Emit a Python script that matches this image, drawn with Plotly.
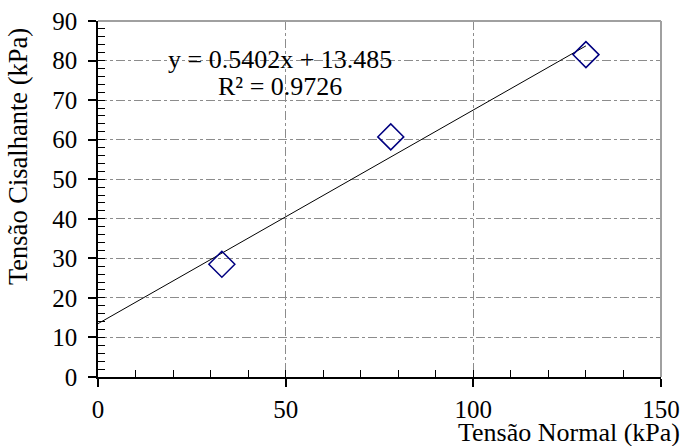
import plotly.graph_objects as go

# Data
normal_stress = [33, 78, 130]          # Tensão Normal (kPa)
shear_stress = [28.5, 60.7, 81.5]      # Tensão Cisalhante (kPa)
slope = 0.5402
intercept = 13.485
r2 = 0.9726
trend_x = [0, 130]
trend_y = [slope * v + intercept for v in trend_x]

x_ticks = [0, 50, 100, 150]
y_ticks = [0, 10, 20, 30, 40, 50, 60, 70, 80, 90]

FONT = "Liberation Serif, Times New Roman, serif"
FS = 25
FT = 26

fig = go.Figure()
fig.add_trace(go.Scatter(x=trend_x, y=trend_y, mode="lines",
                         line=dict(color="black", width=1), showlegend=False,
                         hoverinfo="skip"))
fig.add_trace(go.Scatter(x=normal_stress, y=shear_stress, mode="markers",
                         marker=dict(symbol="diamond-open", size=20,
                                     color="#000080", line=dict(width=1.5, color="#000080")),
                         showlegend=False))

grid = dict(showgrid=True, gridcolor="#8c8c8c", gridwidth=1, griddash="dashdot")

fig.update_layout(
    width=689, height=446,
    margin=dict(l=98, r=28, t=21, b=69, autoexpand=False),
    paper_bgcolor="white", plot_bgcolor="white",
    font=dict(family=FONT, size=FS, color="black"),
    xaxis=dict(range=[0, 150], tickvals=x_ticks, ticktext=[str(v) for v in x_ticks],
               ticks="outside", ticklen=8, tickwidth=1.5, tickcolor="black",
               showline=True, linecolor="black", linewidth=1.5, automargin=False,
               zeroline=False, ticklabelstandoff=1,
               tickfont=dict(family=FONT, size=FS), **grid),
    yaxis=dict(range=[0, 90], tickvals=y_ticks, ticktext=[str(v) for v in y_ticks],
               ticks="outside", ticklen=8, tickwidth=1.5, tickcolor="black",
               showline=True, linecolor="black", linewidth=1.5, automargin=False,
               zeroline=False, ticklabelstandoff=6,
               tickfont=dict(family=FONT, size=FS), **grid),
    xaxis2=dict(overlaying="x", anchor="y", range=[0, 150], dtick=10, tick0=0,
                ticks="inside", ticklen=7, tickwidth=1.2, tickcolor="black", automargin=False,
                showticklabels=False, showgrid=False, zeroline=False, showline=False),
    yaxis2=dict(overlaying="y", anchor="x", range=[0, 90], dtick=2, tick0=0,
                ticks="inside", ticklen=7, tickwidth=1.2, tickcolor="black", automargin=False,
                showticklabels=False, showgrid=False, zeroline=False, showline=False),
)

# top/right gray frame
fig.add_shape(type="line", xref="paper", yref="paper", x0=0, x1=1, y0=1, y1=1,
              line=dict(color="#a0a0a0", width=2))
fig.add_shape(type="line", xref="paper", yref="paper", x0=1, x1=1, y0=0, y1=1,
              line=dict(color="#a0a0a0", width=2))

# axis titles
fig.add_annotation(text="Tensão Normal (kPa)", xref="paper", yref="paper",
                   x=1.037, y=-0.155, xanchor="right", yanchor="middle",
                   showarrow=False, font=dict(family=FONT, size=FT))
fig.add_annotation(text="Tensão Cisalhante (kPa)", xref="paper", yref="paper",
                   x=-0.142, y=0.618, xanchor="center", yanchor="middle", textangle=-90,
                   showarrow=False, font=dict(family=FONT, size=26.5))

# trendline equation
fig.add_annotation(text=f"y = {slope}x + {intercept}", x=48.5, y=80.3,
                   xanchor="center", yanchor="middle", showarrow=False,
                   font=dict(family=FONT, size=26))
fig.add_annotation(text=f"R² = {r2}", x=48.5, y=73.4,
                   xanchor="center", yanchor="middle", showarrow=False,
                   font=dict(family=FONT, size=26))

# invisible trace to activate overlay axes
fig.add_trace(go.Scatter(x=[0], y=[0], xaxis="x2", yaxis="y2", mode="markers",
                         marker=dict(opacity=0), showlegend=False, hoverinfo="skip"))

fig.write_html("out.html", config={"displayModeBar": False},
               post_script="document.body.style.margin='0';")
